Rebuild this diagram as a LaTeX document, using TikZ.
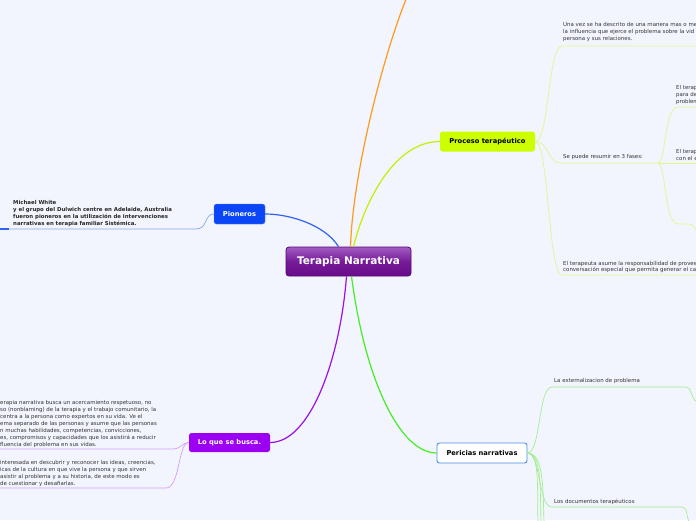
\documentclass[tikz,border=0pt]{standalone}
\usepackage{fontspec}
\setmainfont{DejaVu Sans}
\usetikzlibrary{positioning}
\definecolor{MapBg}{HTML}{F2F5FD}
\definecolor{RootTop}{HTML}{A35CC4}
\definecolor{RootLow}{HTML}{6A0B8C}
\definecolor{RootLine}{HTML}{4F0A6E}
\definecolor{NoteGray}{HTML}{333333}
\definecolor{OrangeLink}{HTML}{FF9A1A}
\definecolor{LimeLink}{HTML}{C4F000}
\definecolor{LimeTwig}{HTML}{E2F58A}
\definecolor{LimeFill}{HTML}{CCFF00}
\definecolor{BlueLink}{HTML}{2F62F5}
\definecolor{BlueTwig}{HTML}{86A4F2}
\definecolor{BlueFill}{HTML}{0A46F5}
\definecolor{PurpleLink}{HTML}{9B10E8}
\definecolor{PurpleTwig}{HTML}{D89CF5}
\definecolor{PurpleFill}{HTML}{9C00F2}
\definecolor{GreenLink}{HTML}{44EE22}
\definecolor{GreenTwig}{HTML}{A2EF90}
\definecolor{PericiaLine}{HTML}{4A8FE6}
\begin{document}
\begin{tikzpicture}[x=1pt, y=-1pt,
  root/.style={draw=RootLine, line width=0.8pt, rounded corners=3pt, top color=RootTop, bottom color=RootLow, middle color=RootLow!80!RootTop, text=white, font=\bfseries\fontsize{10.5}{12}\selectfont, minimum width=125pt, minimum height=29pt, inner sep=0pt},
  topic/.style={rounded corners=2.5pt, font=\bfseries\fontsize{6.7}{7}\selectfont, minimum height=20pt, inner sep=0pt},
  note/.style={anchor=north west, align=left, inner sep=0pt, text=NoteGray, font=\fontsize{5.45}{7}\selectfont},
  link/.style={line width=1.2pt},
  twig/.style={line width=0.7pt}
]
\useasboundingbox (0,0) rectangle (696,520);
\fill[MapBg] (0,0) rectangle (696,520);
\clip (0,0) rectangle (696,520);

% main topics
\node[root] (root) at (348.5,261.5) {Terapia Narrativa};
\node[topic, fill=LimeFill, minimum width=95pt] (proc) at (487.5,141.5) {Proceso terapéutico};
\node[topic, fill=BlueFill, draw=BlueFill!70!white, text=white, minimum width=51pt] (pion) at (239.5,214) {Pioneros};
\node[topic, fill=PurpleFill, text=white, minimum width=81pt, minimum height=19pt] (busca) at (229.5,442.5) {Lo que se busca.};
\node[topic, fill=white, draw=PericiaLine, line width=0.9pt, minimum width=90pt] (peri) at (482,453) {Pericias narrativas};
\coordinate (top) at (407,-3);

\draw[link, OrangeLink] ([xshift=2pt]root.north) .. controls (353,170) and (385,50) .. (top);
\draw[link, LimeLink] ([xshift=5pt]root.north) .. controls (365,200) and (395,141.5) .. (proc.west);
\draw[link, BlueLink] ([xshift=-10pt]root.north) .. controls (325,225) and (290,214) .. (pion.east);
\draw[link, PurpleLink] ([xshift=-2pt]root.south) .. controls (340,360) and (310,442.5) .. (busca.east);
\draw[link, GreenLink] ([xshift=3pt]root.south) .. controls (365,380) and (400,453) .. (peri.west);

% Pioneros
\node[note, font=\bfseries\fontsize{5.4}{7}\selectfont, text=black!85] (pionnote) at (13,200)
  {Michael White\\y el grupo del Dulwich centre en Adelaide, Australia\\fueron pioneros en la utilización de intervenciones\\narrativas en terapia familiar Sistémica.};
\coordinate (pionbend) at (196,229);
\coordinate (pionend) at (0,229);
\draw[twig, BlueTwig] (pion.west) .. controls (204,214) and (208,229) .. (pionbend) -- (pionend);
\draw[line width=1.4pt, BlueLink] (pionend) -- (9,229);

% Lo que se busca
\node[note] (busca1) at (0,400)
  {erapia narrativa busca un acercamiento respetuoso, no\\
   so (nonblaming) de la terapia y el trabajo comunitario, la\\
   centra a la persona como expertos en su vida. Ve el\\
   ema separado de las personas y asume que las personas\\
   n muchas habilidades, competencias, convicciones,\\
   es, compromisos y capacidades que los asistirá a reducir\\
   fluencia del problema en sus vidas.};
\node[note] (busca2) at (0,460)
  {interesada en descubrir y reconocer las ideas, creencias,\\
   icas de la cultura en que vive la persona y que sirven\\
   asistir al problema y a su historia, de este modo es\\
   de cuestionar y desafiarlas.};
\coordinate (bend1) at (172,449);
\coordinate (end1) at (0,449);
\coordinate (bend2) at (166,488);
\coordinate (end2) at (0,488);
\draw[twig, PurpleTwig] (busca.west) .. controls (182,442.5) and (182,449) .. (bend1) -- (end1);
\draw[twig, PurpleTwig] (busca.west) .. controls (178,442.5) and (180,488) .. (bend2) -- (end2);

% Proceso terapeutico
\node[note] (vez) at (563,22)
  {Una vez se ha descrito de una manera mas o me\\la influencia que ejerce el problema sobre la vid\\persona y sus relaciones.};
\node[note] (fasesnote) at (563,154) {Se puede resumir en 3 fases:};
\node[note, font=\fontsize{5.45}{6.5}\selectfont] (asume) at (563,261)
  {El terapeuta asume la responsabilidad de provee\\conversación especial que permita generar el ca};
\node[note] (fase1) at (676,85) {El terap\\para de\\problem};
\node[note] (fase2) at (676,149) {El terap\\con el e};
\coordinate (vezend) at (697,46);
\coordinate (fases) at (658,163);
\coordinate (asumeend) at (697,275);
\draw[twig, LimeTwig] (proc.east) .. controls (549,141.5) and (548,46) .. (562,46) -- (vezend);
\draw[twig, LimeTwig] (proc.east) .. controls (549,141.5) and (548,163) .. (560,163) -- (fases);
\draw[twig, LimeTwig] (proc.east) .. controls (549,141.5) and (548,275) .. (562,275) -- (asumeend);
\draw[twig, LimeTwig] (fases) .. controls (666,163) and (664,107) .. (678,107) -- (697,107);
\draw[twig, LimeTwig] (fases) -- (697,163);
\draw[twig, LimeTwig] (fases) .. controls (666,163) and (664,224) .. (678,224) -- (689,224) .. controls (694,224) and (694,228) .. (697,231);

% Pericias narrativas
\node[note] (extern) at (554,378) {La externalizacion de problema};
\node[note] (docs) at (554,499) {Los documentos terapéuticos};
\draw[twig, GreenTwig] (peri.east) .. controls (541,453) and (538,387) .. (552,387) -- (686,387) .. controls (692,387) and (690,398) .. (697,402);
\draw[twig, GreenTwig] (peri.east) .. controls (541,453) and (538,507) .. (552,507) -- (682,507) .. controls (688,507) and (686,518) .. (690,523);
\draw[twig, GreenTwig] (peri.east) .. controls (540,453) and (537,490) .. (538,523);
\draw[twig, GreenTwig] (peri.east) .. controls (542,453) and (540,490) .. (541,523);
\draw[twig, GreenTwig] (peri.east) .. controls (544,453) and (543,490) .. (544,523);
\end{tikzpicture}
\end{document}
